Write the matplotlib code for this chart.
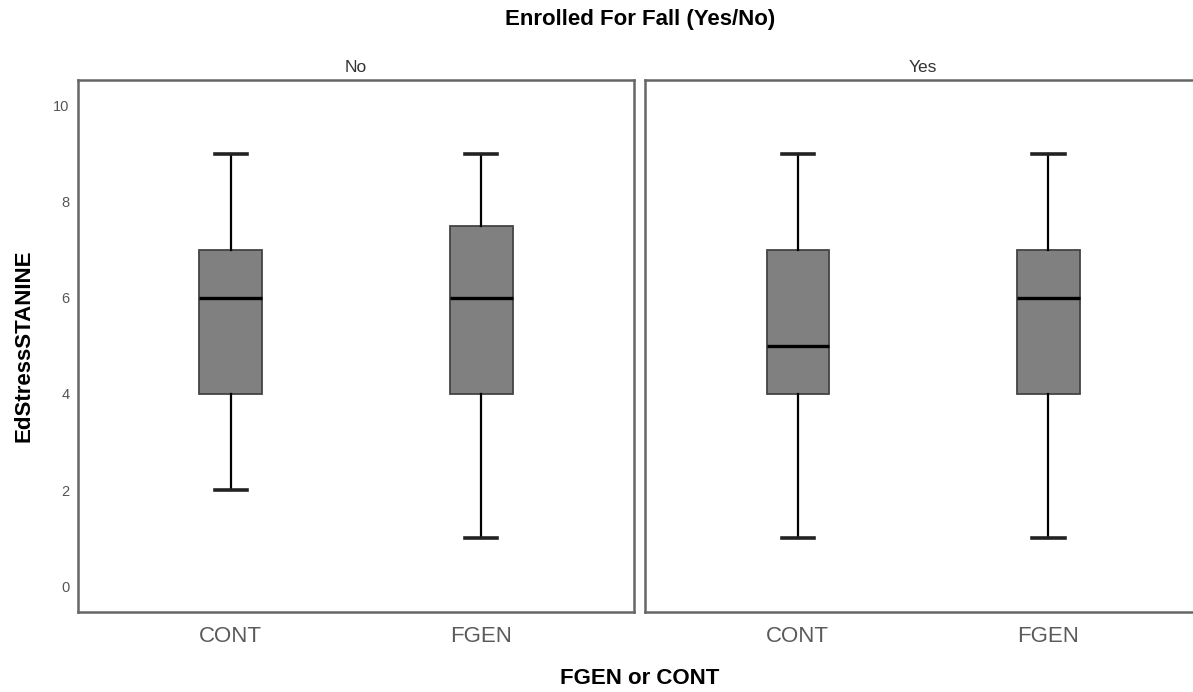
import matplotlib
matplotlib.use("Agg")
import matplotlib.pyplot as plt

plt.rcParams['font.family'] = ['Liberation Sans', 'DejaVu Sans']

# five-number summaries
panels = ['No', 'Yes']
groups = ['CONT', 'FGEN']
mins = {'No': [2, 1], 'Yes': [1, 1]}
q1s = {'No': [4, 4], 'Yes': [4, 4]}
medians = {'No': [6, 6], 'Yes': [5, 6]}
q3s = {'No': [7, 7.5], 'Yes': [7, 7]}
maxs = {'No': [9, 9], 'Yes': [9, 9]}
yticks = [0, 2, 4, 6, 8, 10]

fig = plt.figure(figsize=(11.93, 6.92), dpi=100)

ax_pos = [[0.0654, 0.1156, 0.466, 0.769],
          [0.5407, 0.1156, 0.466, 0.769]]

spine_col = '#666666'
for i, p in enumerate(panels):
    ax = fig.add_axes(ax_pos[i])
    stats = []
    for j, g in enumerate(groups):
        stats.append({'label': g, 'whislo': mins[p][j], 'q1': q1s[p][j],
                      'med': medians[p][j], 'q3': q3s[p][j],
                      'whishi': maxs[p][j], 'fliers': []})
    ax.bxp(stats, positions=[0, 1], widths=0.25, patch_artist=True,
           showfliers=False,
           boxprops=dict(facecolor='#808080', edgecolor='#444444', linewidth=1.3),
           medianprops=dict(color='black', linewidth=2.4),
           whiskerprops=dict(color='black', linewidth=1.6),
           capprops=dict(color='#222222', linewidth=2.6),
           capwidths=0.13)
    ax.set_xlim(-0.61, 1.61)
    ax.set_ylim(-0.54, 10.54)
    ax.set_yticks(yticks)
    ax.tick_params(length=0)
    ax.tick_params(axis='x', labelsize=16, labelcolor='#5a5a5a', pad=10)
    ax.tick_params(axis='y', labelsize=10.5, labelcolor='#555555', pad=6)
    if i == 1:
        ax.set_yticklabels([])
    for s in ax.spines.values():
        s.set_color(spine_col)
        s.set_linewidth(1.8)
    ax.set_title(p, fontsize=12.5, color='#333333', pad=6)

fig.text(0.5365, 0.9725, 'Enrolled For Fall (Yes/No)', ha='center', va='center',
         fontsize=16, fontweight='bold')
fig.text(0.5365, 0.019, 'FGEN or CONT', ha='center', va='center',
         fontsize=16, fontweight='bold')
fig.text(0.02, 0.5, 'EdStressSTANINE', ha='center', va='center', rotation=90,
         fontsize=16, fontweight='bold')

fig.savefig('out.png', dpi=100)
